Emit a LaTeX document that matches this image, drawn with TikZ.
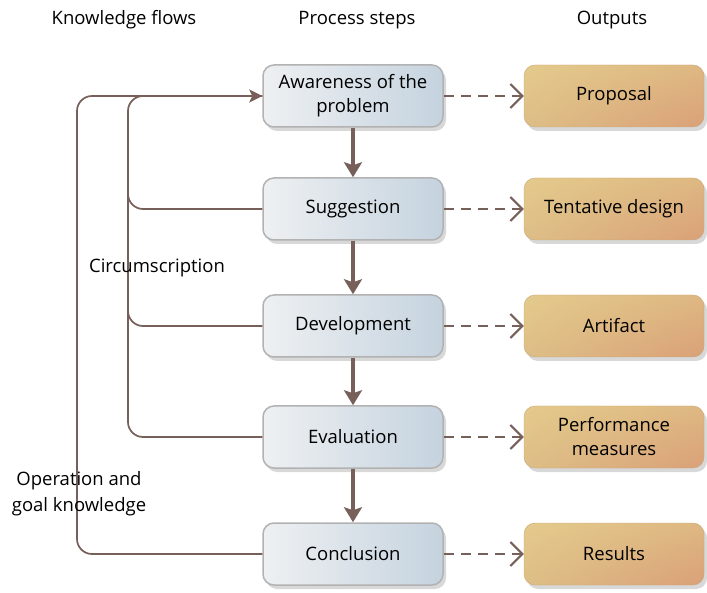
\documentclass[tikz,border=0pt]{standalone}
\usepackage{fontspec}
\setmainfont{Open Sans}
\usetikzlibrary{arrows.meta,shadows,shadings}

\definecolor{flowbrown}{RGB}{119,96,90}
\definecolor{stepL}{RGB}{238,240,242}
\definecolor{stepR}{RGB}{197,211,223}
\definecolor{stepedge}{RGB}{178,178,178}
\definecolor{outUL}{RGB}{228,202,140}
\definecolor{outUR}{RGB}{222,184,130}
\definecolor{outLL}{RGB}{221,190,134}
\definecolor{outLR}{RGB}{218,160,120}
\definecolor{shadowgray}{RGB}{216,216,216}

\tikzset{
  boxtext/.style={font=\fontsize{18.5}{24}\selectfont, align=center, text=black},
  stepbox/.style={boxtext, draw=stepedge, line width=1.5pt, rounded corners=11pt,
    minimum width=180pt, minimum height=62pt, inner sep=1pt,
    left color=stepL, right color=stepR,
    drop shadow={shadow xshift=3pt, shadow yshift=-4pt, fill=shadowgray, opacity=1}},
  outbox/.style={boxtext, rounded corners=11pt, draw=outUR!90!black, line width=0.4pt,
    minimum width=180pt, minimum height=62pt, inner sep=1pt,
    upper left=outUL, upper right=outUR, lower left=outLL, lower right=outLR,
    drop shadow={shadow xshift=3pt, shadow yshift=-4pt, fill=shadowgray, opacity=1}},
  headline/.style={font=\fontsize{18.5}{22}\selectfont, text=black},
  flow/.style={draw=flowbrown, line width=1.7pt, rounded corners=15pt},
  stepflow/.style={draw=flowbrown, line width=3.5pt,
    -{Stealth[width=18pt, length=15pt, inset=3pt]}},
  yields/.style={draw=flowbrown, line width=1.6pt, dash pattern=on 10pt off 7pt,
    -{Straight Barb[length=12pt, width=24pt, line width=2pt]}},
}

\begin{document}
\begin{tikzpicture}[x=1pt, y=-1pt]
  \useasboundingbox (0,0) rectangle (707,593);

  % column headings
  \node[headline] (hk) at (124,20) {Knowledge flows};
  \node[headline] (hp) at (357,20) {Process steps};
  \node[headline] (ho) at (612,20) {Outputs};

  % process steps
  \node[stepbox] (aware) at (353,96)  {Awareness of the\\problem};
  \node[stepbox] (sugg)  at (353,209) {Suggestion};
  \node[stepbox] (dev)   at (353,326) {Development};
  \node[stepbox] (eval)  at (353,437) {Evaluation};
  \node[stepbox] (conc)  at (353,554) {Conclusion};

  % outputs
  \node[outbox] (o1) at (614,96)  {Proposal};
  \node[outbox] (o2) at (614,209) {Tentative design};
  \node[outbox] (o3) at (614,326) {Artifact};
  \node[outbox] (o4) at (614,437) {Performance\\measures};
  \node[outbox] (o5) at (614,554) {Results};

  % corner points of the knowledge loops
  \coordinate (innertop) at (128,96);
  \coordinate (outertop) at (77,96);

  % circumscription loops
  \draw[flow] (eval.west) -| (innertop) -- (aware.west);
  \draw[flow] (dev.west) -- (dev.west -| innertop) -- ++(0,-40);
  \draw[flow] (sugg.west) -- (sugg.west -| innertop) -- ++(0,-40);

  % operation and goal knowledge loop
  \draw[flow, -{Stealth[width=13pt, length=13pt, inset=3pt]}]
    (conc.west) -| (outertop) -- (aware.west);

  % step sequence
  \draw[stepflow] (aware.south) -- (sugg.north);
  \draw[stepflow] (sugg.south) -- (dev.north);
  \draw[stepflow] (dev.south) -- (eval.north);
  \draw[stepflow] (eval.south) -- (conc.north);

  % outputs of each step
  \draw[yields] (aware.east) -- (o1.west);
  \draw[yields] (sugg.east) -- (o2.west);
  \draw[yields] (dev.east) -- (o3.west);
  \draw[yields] (eval.east) -- (o4.west);
  \draw[yields] (conc.east) -- (o5.west);

  % loop labels
  \node[headline] (lc) at (157,268) {Circumscription};
  \node[headline, align=center, font=\fontsize{18.5}{26}\selectfont] (lo) at (79,494)
    {Operation and\\goal knowledge};
\end{tikzpicture}
\end{document}
